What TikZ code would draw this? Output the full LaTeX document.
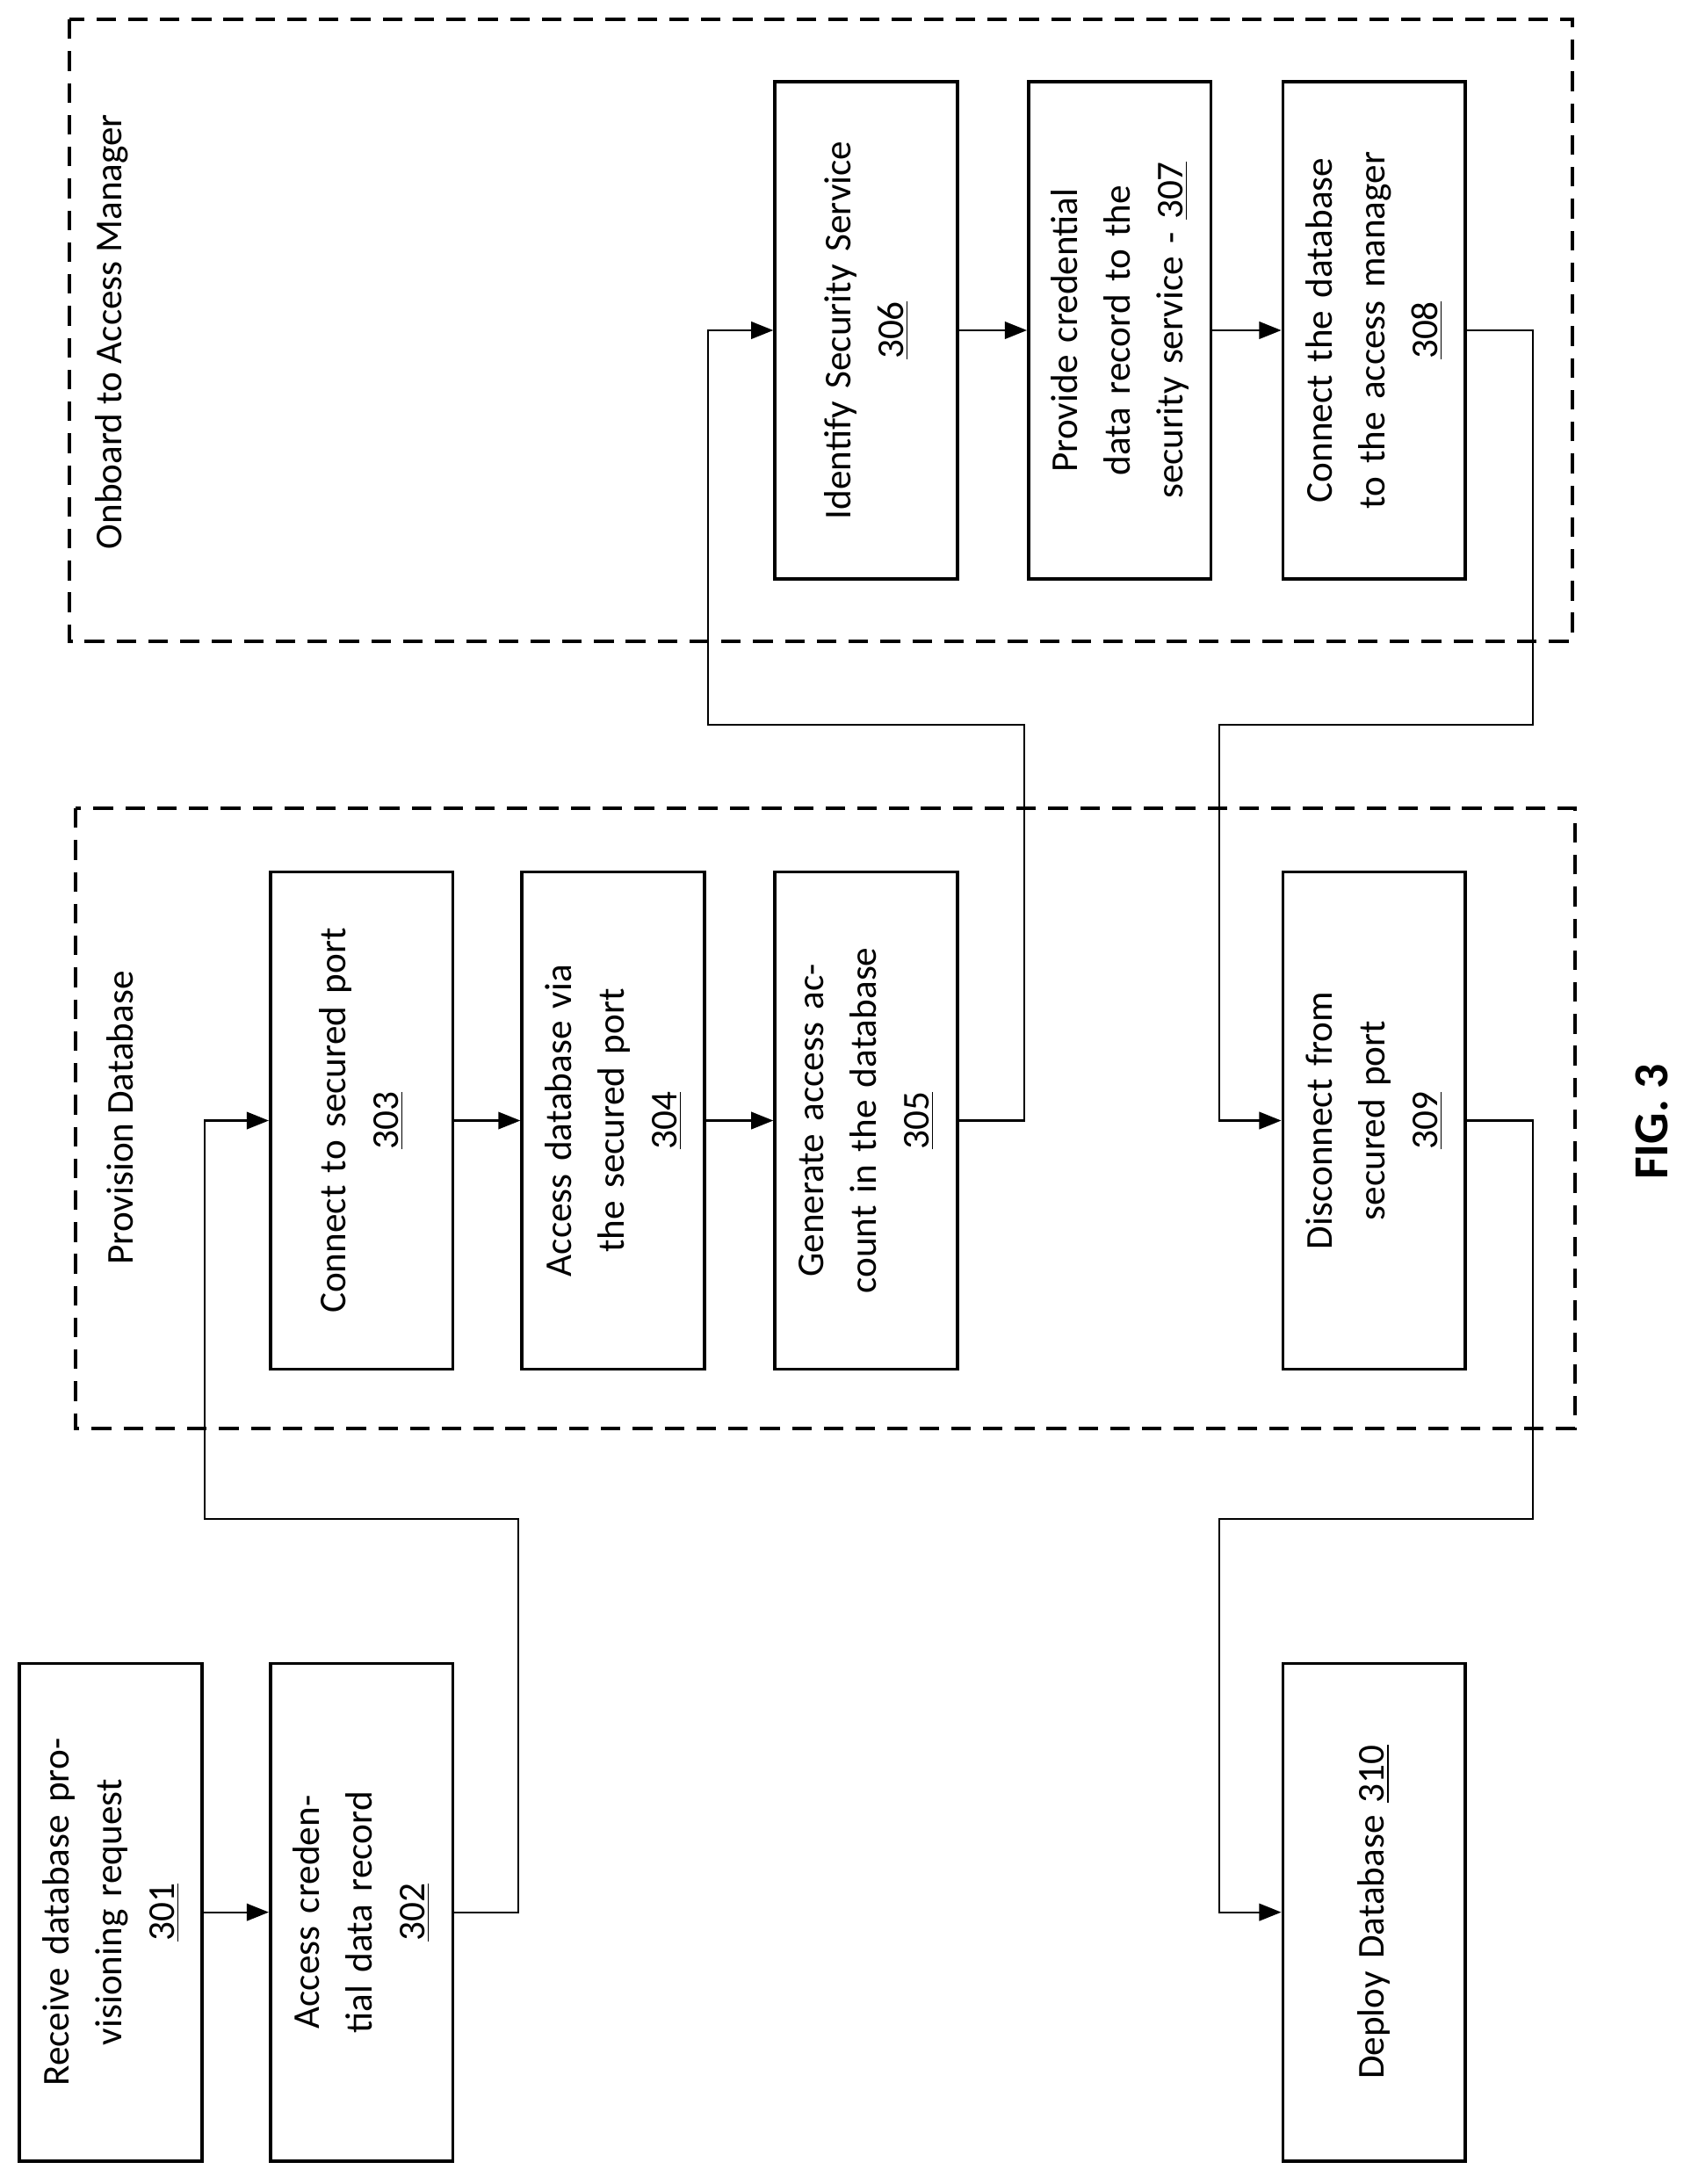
\documentclass[tikz,border=0pt]{standalone}
\usepackage{fontspec}
\setmainfont{Carlito}
\usetikzlibrary{arrows.meta}
\begin{document}
\begin{tikzpicture}[x=0.02cm,y=-0.02cm,
 box/.style={draw,line width=1.3pt,rotate=90,minimum width=7.14cm,minimum height=2.62cm,text width=6.4cm,align=center,font=\fontsize{15.5}{21.5}\selectfont,inner sep=0pt},
 grp/.style={draw,line width=1.4pt,dash pattern=on 8pt off 5pt},
 arr/.style={line width=0.8pt,-{Triangle[length=9pt,width=7pt]}}]
\useasboundingbox (0,0) rectangle (1213,1567);
\draw[grp] (54,580) rectangle (1130,1025);
\draw[grp] (50,14) rectangle (1128,460);
\node[rotate=90,font=\fontsize{15.5}{20}\selectfont] (lp) at (86,802) {Provision Database};
\node[rotate=90,font=\fontsize{15.5}{20}\selectfont] (lo) at (80,238) {Onboard to Access Manager};
\node[box] (n301) at (79.5,1372) {Receive database provisioning request\\\underline{301}};
\node[box] (n302) at (259.5,1372) {Access credential data record\\\underline{302}};
\node[box] (n310) at (986,1372) {Deploy Database \underline{310}};
\node[box] (n303) at (259.5,804) {Connect to secured port\\\underline{303}};
\node[box] (n304) at (440,804) {Access database via the secured port\\\underline{304}};
\node[box] (n305) at (621.5,804) {Generate access account in the database\\\underline{305}};
\node[box] (n309) at (986,804) {Disconnect from secured port\\\underline{309}};
\node[box] (n306) at (621.5,237) {Identify Security Service\\\underline{306}};
\node[box] (n307) at (803.5,237) {Provide credential data record to the security service - \underline{307}};
\node[box] (n308) at (986,237) {Connect the database to the access manager\\\underline{308}};
\node[rotate=90,font=\bfseries\fontsize{20}{24}\selectfont] (fig) at (1185,805) {FIG. 3};
\draw[arr] (n301.south) -- (n302.north);
\draw[arr] (n302.south) -| (372,1090) -- (147,1090) |- (n303.north);
\draw[arr] (n303.south) -- (n304.north);
\draw[arr] (n304.south) -- (n305.north);
\draw[arr] (n305.south) -| (735,520) -- (508,520) |- (n306.north);
\draw[arr] (n306.south) -- (n307.north);
\draw[arr] (n307.south) -- (n308.north);
\draw[arr] (n308.south) -| (1100,520) -- (875,520) |- (n309.north);
\draw[arr] (n309.south) -| (1100,1090) -- (875,1090) |- (n310.north);
\end{tikzpicture}
\end{document}
